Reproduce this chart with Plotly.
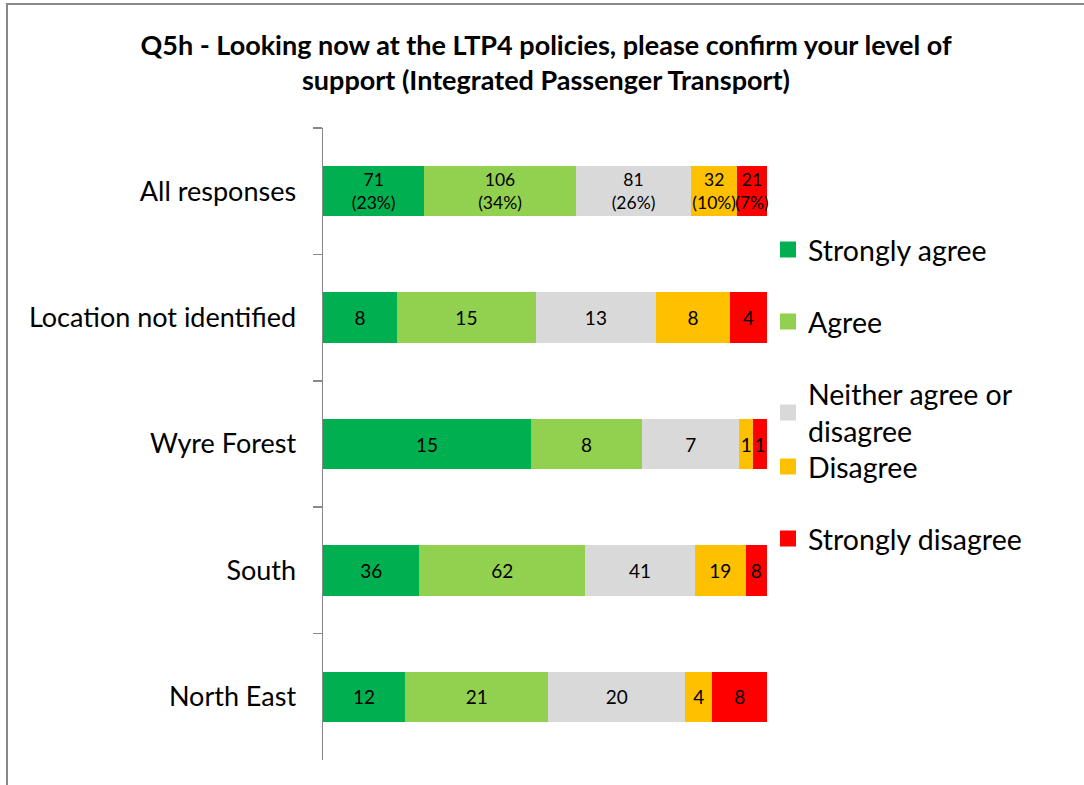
import plotly.graph_objects as go

regions = ["All responses", "Location not identified", "Wyre Forest", "South", "North East"]
series_names = ["Strongly agree", "Agree", "Neither agree or<br>disagree", "Disagree", "Strongly disagree"]
strongly_agree = [71, 8, 15, 36, 12]
agree = [106, 15, 8, 62, 21]
neither = [81, 13, 7, 41, 20]
disagree = [32, 8, 1, 19, 4]
strongly_disagree = [21, 4, 1, 8, 8]
colors = ["#00B050", "#92D050", "#D9D9D9", "#FFC000", "#FF0000"]

series = [strongly_agree, agree, neither, disagree, strongly_disagree]
totals = [sum(vals) for vals in zip(*series)]

W, H = 1084, 785
FONT = "Lato"

fig = go.Figure()
legend_y_px = [250, 322, 413, 467, 539]
for i, (name, vals, col) in enumerate(zip(series_names, series, colors)):
    shares = [v / t for v, t in zip(vals, totals)]
    texts = []
    sizes = []
    for r, (v, t) in enumerate(zip(vals, totals)):
        if r == 0:
            texts.append(f"{v}<br>({round(100 * v / t)}%)")
            sizes.append(17.5)
        else:
            texts.append(f"{v}")
            sizes.append(19)
    lg = "legend" if i == 0 else f"legend{i + 1}"
    fig.add_trace(go.Bar(
        y=regions, x=shares, orientation="h", name=name,
        marker=dict(color=col, line=dict(width=0)),
        text=texts, textposition="inside", insidetextanchor="middle",
        textangle=0, constraintext="none", cliponaxis=False,
        textfont=dict(family=FONT, size=sizes, color="#000000"),
        width=0.4, showlegend=False, hoverinfo="skip",
    ))
    # legend entry (square swatch) for this series
    fig.add_trace(go.Scatter(
        x=[None], y=[None], mode="markers", name=name,
        marker=dict(symbol="square", size=18, color=col, line=dict(width=0)),
        legend=lg, showlegend=True, hoverinfo="skip",
    ))

layout_legends = {}
for i, ypx in enumerate(legend_y_px):
    key = "legend" if i == 0 else f"legend{i + 1}"
    layout_legends[key] = dict(
        x=768 / W, xanchor="left", y=1 - ypx / H, yanchor="middle",
        font=dict(family=FONT, size=28.5, color="#000000"),
        bgcolor="rgba(0,0,0,0)", itemclick=False, itemdoubleclick=False,
        itemsizing="trace",
    )

fig.update_layout(
    width=W, height=H,
    margin=dict(l=0, r=0, t=0, b=0),
    paper_bgcolor="white", plot_bgcolor="white",
    barmode="stack",
    showlegend=True,
    title=dict(
        text="<b>Q5h - Looking now at the LTP4 policies, please confirm your level of<br>support (Integrated Passenger Transport)</b>",
        x=546 / W, xanchor="center", y=1 - 55 / H, yanchor="middle",
        font=dict(family=FONT, size=27, color="#000000"),
    ),
    xaxis=dict(domain=[323 / W, 767 / W], range=[0, 1], visible=False, fixedrange=True),
    yaxis=dict(
        domain=[1 - 760 / H, 1 - 128 / H],
        autorange=False, range=[4.5, -0.5],
        type="category", categoryorder="array", categoryarray=regions,
        showline=True, linecolor="#888888", linewidth=1.5,
        ticks="outside", tickson="boundaries", ticklen=9, tickcolor="#888888", tickwidth=1.5,
        tickfont=dict(family=FONT, size=27, color="#000000"),
        ticklabelstandoff=20,
        showgrid=False, zeroline=False, automargin=False, fixedrange=True,
    ),
    shapes=[dict(
        type="rect", xref="paper", yref="paper",
        x0=7 / W, x1=1.2, y0=-0.2, y1=1 - 4 / H,
        line=dict(color="#888888", width=2), fillcolor="rgba(0,0,0,0)",
    )],
    **layout_legends,
)

fig.write_html(
    "out.html",
    config={"displayModeBar": False, "staticPlot": True},
    post_script="document.body.style.margin='0px';",
)
